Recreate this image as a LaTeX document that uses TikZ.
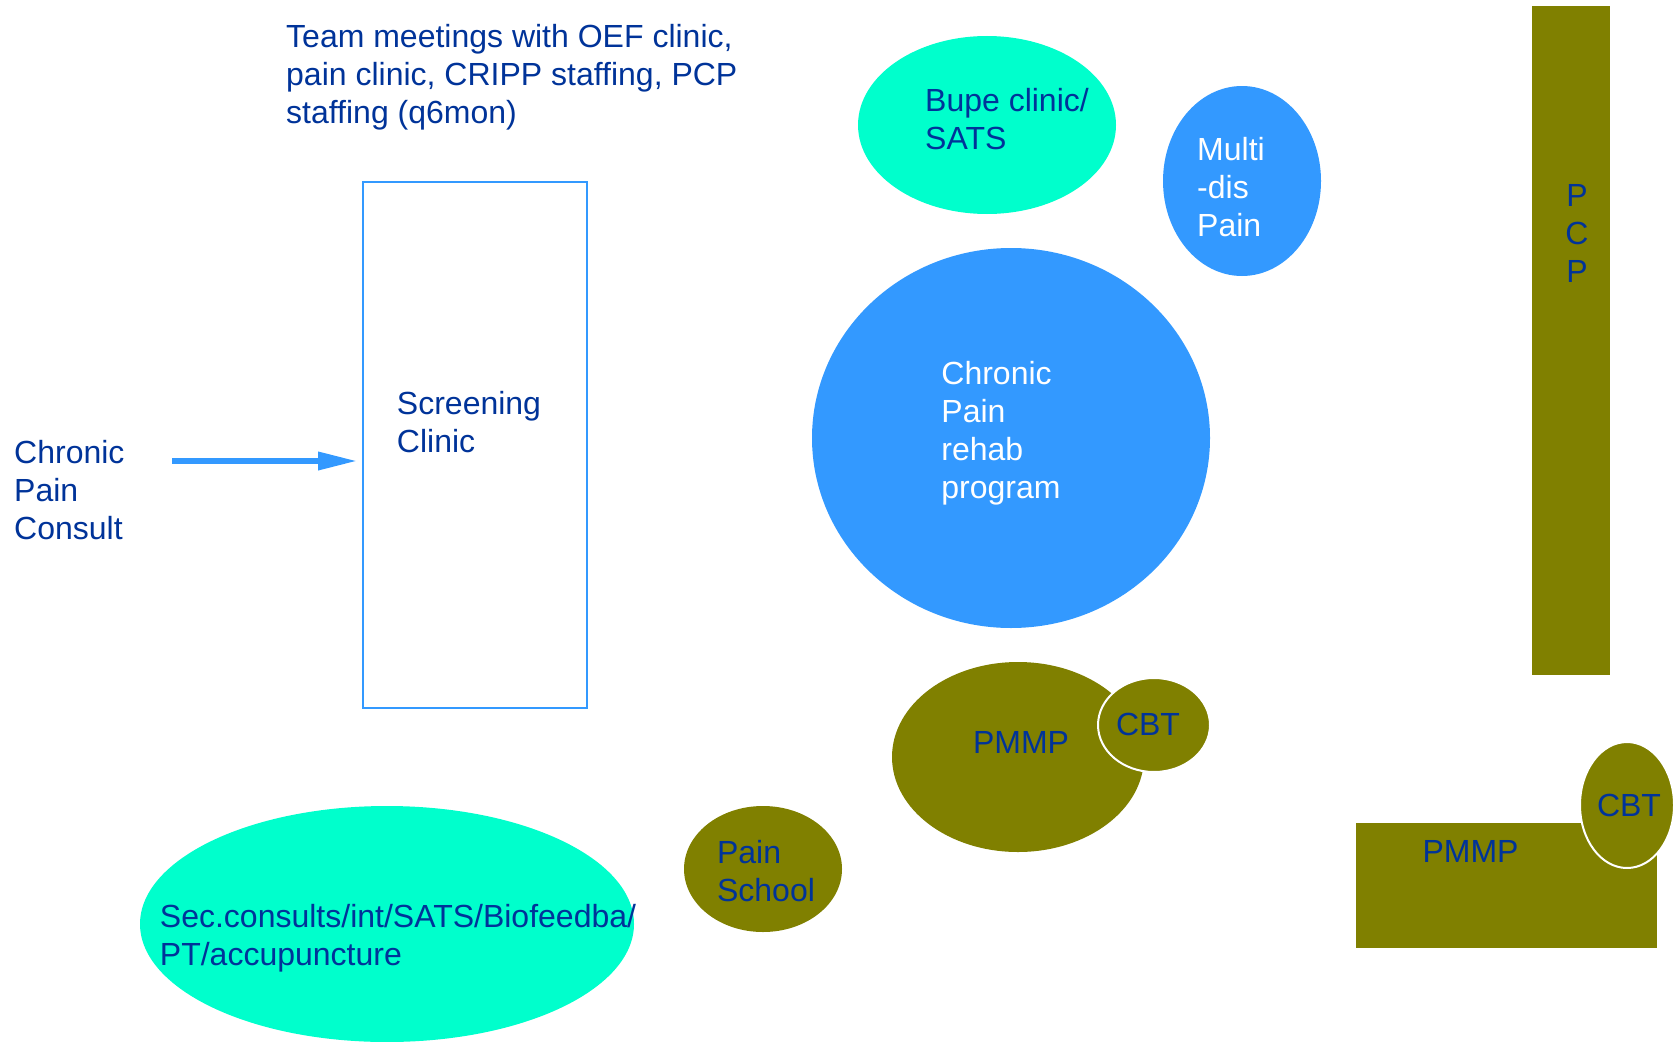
\documentclass[tikz,border=0pt]{standalone}
\usepackage{fontspec}
\setmainfont{Liberation Sans}
\usetikzlibrary{shapes.geometric,arrows.meta}
\definecolor{navy}{HTML}{003399}
\definecolor{sky}{HTML}{3399FF}
\definecolor{aqua}{HTML}{00FFCC}
\definecolor{olivebar}{HTML}{808000}

\begin{document}
\begin{tikzpicture}[%
    x=1pt, y=-1pt,                          % Pixel-like units, going down
    >={Triangle[length=40pt,width=17pt]},   % Big flat arrow head
    ]
% -------------------------------------------------
% Text and shape styles
\tikzset{
  txt/.style={font=\fontsize{32}{38}\selectfont, text=navy, align=left, inner sep=0pt},
  wtxt/.style={txt, text=white},
  oval/.style={ellipse, inner sep=0pt},
  aquaoval/.style={oval, fill=aqua},
  skyoval/.style={oval, fill=sky},
  oliveoval/.style={oval, fill=olivebar},
  cbtoval/.style={oliveoval, draw=white, line width=2pt},
  slab/.style={rectangle, inner sep=0pt, fill=olivebar},
  screenbox/.style={rectangle, inner sep=0pt, draw=sky, line width=2pt},
  flow/.style={->, draw=sky, line width=6.5pt, shorten >=4pt}
}
\useasboundingbox (0,0) rectangle (1675,1041);
% -------------------------------------------------
% Free text
\node [txt, anchor=west] (team) at (286,77)
  {Team meetings with OEF clinic,\\pain clinic, CRIPP staffing, PCP\\staffing (q6mon)};
\node [txt, anchor=west] (consult) at (14,490) {Chronic\\Pain\\Consult};

% Screening
\node [screenbox, minimum width=224pt, minimum height=526pt,
  label={[txt,xshift=-6pt,yshift=23pt]center:{Screening\\Clinic}}] (screen) at (475,445) {};

% Upper group
\node [aquaoval, minimum width=258pt, minimum height=178pt,
  label={[txt,xshift=20pt,yshift=6pt]center:{Bupe clinic/\\SATS}}] (bupe) at (987,125) {};
\node [skyoval, minimum width=158pt, minimum height=190pt,
  label={[wtxt,xshift=-11pt,yshift=-6pt]center:{Multi\\-dis\\Pain}}] (multi) at (1242,181) {};
\node [skyoval, minimum width=398pt, minimum height=380pt,
  label={[wtxt,xshift=-10pt,yshift=5pt]center:{Chronic\\Pain\\rehab\\program}}] (rehab) at (1011,438) {};
\node [slab, minimum width=78pt, minimum height=669pt,
  label={[txt,align=center,xshift=6pt,yshift=107pt]center:{P\\C\\P}}] (pcp) at (1571,340.5) {};

% Lower group
\node [oliveoval, minimum width=252pt, minimum height=190pt,
  label={[txt,xshift=3pt,yshift=15pt]center:PMMP}] (pmmp) at (1018,757) {};
\node [cbtoval, minimum width=112pt, minimum height=94pt,
  label={[txt,xshift=-6pt,yshift=1pt]center:CBT}] (cbt) at (1154,725) {};
\node [oliveoval, minimum width=158pt, minimum height=126pt,
  label={[txt,xshift=3pt,yshift=-2pt]center:{Pain\\School}}] (school) at (763,869) {};
\node [aquaoval, minimum width=494pt, minimum height=236pt,
  label={[txt,xshift=11pt,yshift=-14pt]center:{Sec.consults/int/SATS/Biofeedba/\\PT/accupuncture}}] (sec) at (387,924) {};
\node [slab, minimum width=301pt, minimum height=125pt,
  label={[txt,xshift=-36pt,yshift=34pt]center:PMMP}] (pmmpbox) at (1506.5,885.5) {};
\node [cbtoval, minimum width=94pt, minimum height=126pt,
  label={[txt,xshift=2pt,yshift=0pt]center:CBT}] (cbtbox) at (1627,805) {};

% -------------------------------------------------
\coordinate (tail) at (172,461);
\draw[flow] (tail) -- (tail -| screen.west);	%Consult,Screening
\end{tikzpicture}
\end{document}
